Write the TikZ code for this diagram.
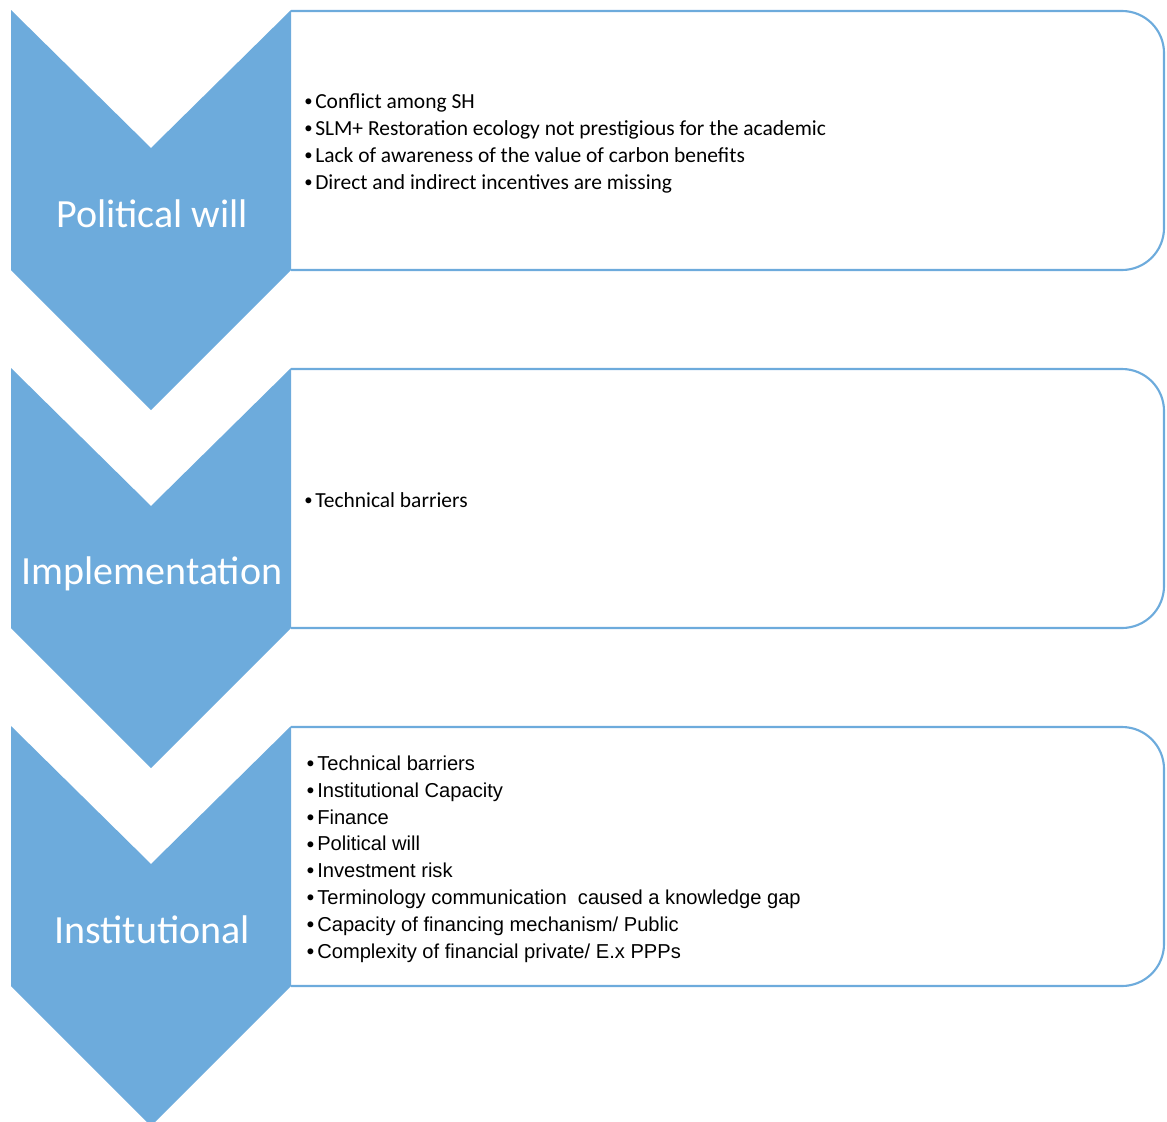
\documentclass[tikz,border=0pt]{standalone}
\usepackage{fontspec}
\setmainfont{Carlito}
\newfontfamily\listfont{Liberation Sans}
\newfontfamily\dotfont{Carlito}
\usetikzlibrary{positioning}

\definecolor{stageblue}{RGB}{109,171,220}

\tikzset{
  stagebox/.style={draw=stageblue, line width=1.6pt, rounded corners=31.5pt},
  stagelabel/.style={text=white, font=\fontsize{30}{36}\selectfont},
  barriers/.style={anchor=west, align=left, inner sep=0pt,
    font=\fontsize{16.1}{20.25}\selectfont},
}
\newcommand\barrier[1]{\makebox[9pt][l]{\hspace{0.8pt}\raisebox{1.3pt}{\dotfont\fontsize{12.5}{12.5}\selectfont\textbullet}}#1}

\begin{document}
\begin{tikzpicture}[x=0.75pt, y=-0.75pt]
  \useasboundingbox (0,0) rectangle (1167,1121);

  % 1. boxes and chevrons, one row every 358 units
  \foreach \i/\name in {0/will,1/impl,2/inst} {
    \pgfmathsetmacro\dy{358*\i}
    \draw[stagebox] (291,11+\dy) -- (1164,11+\dy) -- (1164,270+\dy) -- (291,270+\dy);
    \fill[stageblue] (11,10+\dy) -- (151,148+\dy) -- (291,10+\dy) -- (291,270+\dy)
      -- (151,410+\dy) -- (11,270+\dy) -- cycle;
    \coordinate (\name-mid) at (152,214+\dy);
    \coordinate (\name-txt) at (303,143+\dy);
  }

  % 2. stage names
  \node[stagelabel] (will) at (will-mid) {Political will};
  \node[stagelabel] (impl) at ([yshift=-1pt]impl-mid) {Implementation};
  \node[stagelabel] (inst) at (inst-mid) {Institutional};

  % 3. barrier lists
  \node[barriers] (will-list) at (will-txt) {%
    \barrier{Conflict among SH}\\
    \barrier{SLM+ Restoration ecology not prestigious for the academic}\\
    \barrier{Lack of awareness of the value of carbon benefits}\\
    \barrier{Direct and indirect incentives are missing}};
  \node[barriers, yshift=1pt] (impl-list) at (impl-txt) {\barrier{Technical barriers}};
  \node[barriers, font=\listfont\fontsize{15.1}{20.1}\selectfont, xshift=1.5pt] (inst-list) at (inst-txt) {%
    \barrier{Technical barriers}\\
    \barrier{Institutional Capacity}\\
    \barrier{Finance}\\
    \barrier{Political will}\\
    \barrier{Investment risk}\\
    \barrier{Terminology communication \ caused a knowledge gap}\\
    \barrier{Capacity of financing mechanism/ Public}\\
    \barrier{Complexity of financial private/ E.x PPPs}};
\end{tikzpicture}
\end{document}
